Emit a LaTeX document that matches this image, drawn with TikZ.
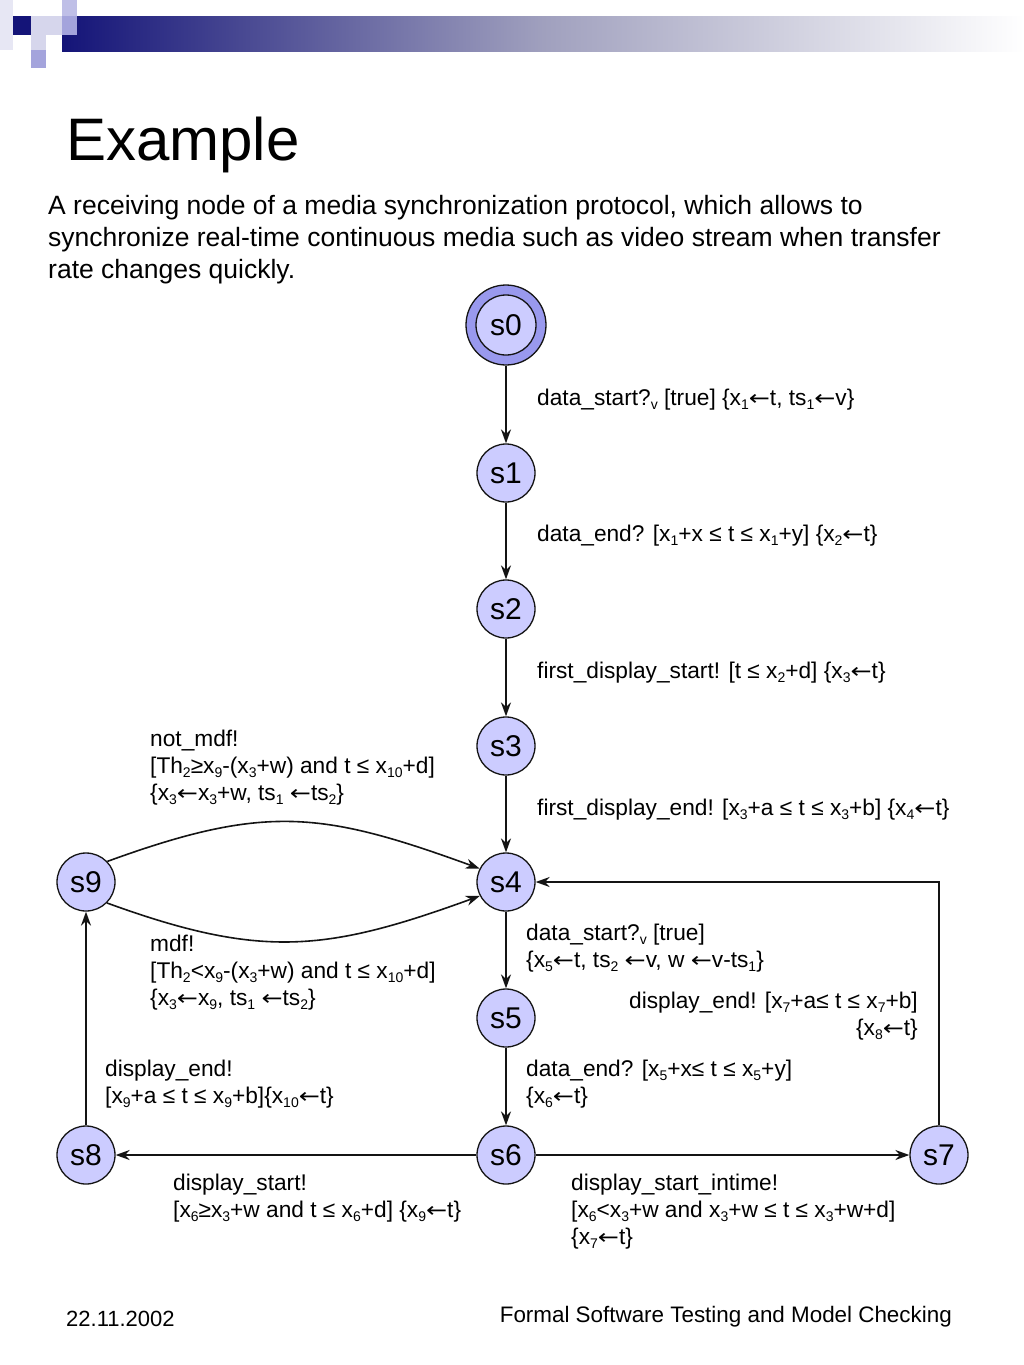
\documentclass[tikz,border=0pt]{standalone}
\usepackage{fontspec}
\usepackage{graphicx}
\setmainfont{Liberation Sans}
\newfontfamily\dvfont{DejaVu Sans}
\usetikzlibrary{arrows.meta}
\definecolor{navyc}{RGB}{20,20,120}
\definecolor{midc}{RGB}{160,160,190}
\definecolor{sqlight}{RGB}{214,214,236}
\definecolor{sqlav}{RGB}{164,164,220}
\definecolor{statec}{RGB}{204,204,255}
\definecolor{ringc}{RGB}{153,153,238}
\definecolor{linec}{RGB}{20,20,20}
\newcommand\sub[1]{\raisebox{-4pt}{\fontsize{14}{14}\selectfont #1}}
\newcommand\lstrut{\rule{0pt}{17pt}}
\newcommand\la{\scalebox{1.2}[1.0]{\dvfont\fontsize{21}{21}\selectfont ←}}
\begin{document}
\begin{tikzpicture}[x=1pt,y=1pt,
  state/.style={circle,draw=linec,line width=1.3pt,fill=statec,minimum size=58pt,inner sep=0pt,font=\fontsize{30}{30}\selectfont},
  arr/.style={-{Stealth[length=14pt,width=10pt]},line width=1.6pt,draw=linec},
  lab/.style={inner sep=0pt,font=\fontsize{22.7}{27}\selectfont,align=left,anchor=north west},
  labone/.style={inner sep=0pt,font=\fontsize{22.7}{27}\selectfont,anchor=base west}]
\useasboundingbox (0,0) rectangle (1024,-1365);
\fill[white] (0,0) rectangle (1024,-1365);
% decoration
\shade[left color=navyc,right color=white,middle color=midc] (62,-16) rectangle (1024,-51);
\fill[sqlight!60] (0,0) rectangle (13,-16);
\fill[sqlight!60] (0,-16) rectangle (13,-50);
\fill[sqlav!70] (62,0) rectangle (77,-16);
\fill[navyc] (13,-16) rectangle (31,-35);
\fill[sqlight] (31,-16) rectangle (62,-35);
\fill[sqlav] (62,-16) rectangle (77,-35);
\fill[sqlight] (31,-35) rectangle (46,-50);
\fill[sqlav] (31,-50) rectangle (46,-68);
% title and text
\node[inner sep=0pt,anchor=base west,font=\fontsize{60}{60}\selectfont] (title) at (66,-160) {Example};
\node[inner sep=0pt,anchor=north west,align=left,font=\fontsize{26.5}{32}\selectfont] (intro) at (48,-194.5)
  {\rule{0pt}{19.5pt}A receiving node of a media synchronization protocol, which allows to\\
   synchronize real-time continuous media such as video stream when transfer\\
   rate changes quickly.};
% states
\node[circle,draw=linec,line width=1.3pt,fill=ringc,minimum size=80pt,inner sep=0pt] (s0out) at (506,-325) {};
\node[state,minimum size=60pt] (s0) at (506,-325) {s0};
\node[state] (s1) at (506,-473) {s1};
\node[state] (s2) at (506,-609) {s2};
\node[state] (s3) at (506,-746) {s3};
\node[state] (s4) at (506,-882) {s4};
\node[state] (s5) at (506,-1018) {s5};
\node[state] (s6) at (506,-1155) {s6};
\node[state] (s7) at (939,-1155) {s7};
\node[state] (s8) at (86,-1155) {s8};
\node[state] (s9) at (86,-882) {s9};
% edges
\draw[arr] (s0out) -- (s1);
\draw[arr] (s1) -- (s2);
\draw[arr] (s2) -- (s3);
\draw[arr] (s3) -- (s4);
\draw[arr] (s4) -- (s5);
\draw[arr] (s5) -- (s6);
\draw[arr] (s6) -- (s8);
\draw[arr] (s6) -- (s7);
\draw[arr] (s8) -- (s9);
\draw[arr] (s7) |- (s4);
\draw[arr] (s9.44) .. controls +(20:168) and +(160:168) .. (s4.153);
\draw[arr] (s9.-45) .. controls +(-20:164) and +(200:164) .. (s4.208);
% labels
\node[labone] (l1) at (537,-405) {data\_start?\sub{v} [true] \{x\sub{1}\la t, ts\sub{1}\la v\}};
\node[labone] (l2) at (537,-541) {data\_end? [x\sub{1}+x ≤ t ≤ x\sub{1}+y] \{x\sub{2}\la t\}};
\node[labone] (l3) at (537,-678) {first\_display\_start! [t ≤ x\sub{2}+d] \{x\sub{3}\la t\}};
\node[labone] (l4) at (537,-815) {first\_display\_end! [x\sub{3}+a ≤ t ≤ x\sub{3}+b] \{x\sub{4}\la t\}};
\node[lab] (l5) at (150,-729) {\lstrut not\_mdf!\\{}[Th\sub{2}≥x\sub{9}-(x\sub{3}+w) and t ≤ x\sub{10}+d]\\\{x\sub{3}\la x\sub{3}+w, ts\sub{1} \la ts\sub{2}\}};
\node[lab] (l6) at (150,-934) {\lstrut mdf!\\{}[Th\sub{2}<x\sub{9}-(x\sub{3}+w) and t ≤ x\sub{10}+d]\\\{x\sub{3}\la x\sub{9}, ts\sub{1} \la ts\sub{2}\}};
\node[lab] (l7) at (526,-923) {\lstrut data\_start?\sub{v} [true]\\\{x\sub{5}\la t, ts\sub{2} \la v, w \la v-ts\sub{1}\}};
\node[lab,align=right,anchor=north east] (l8) at (918,-991) {\lstrut display\_end! [x\sub{7}+a≤ t ≤ x\sub{7}+b]\\\{x\sub{8}\la t\}};
\node[lab] (l9) at (526,-1059) {\lstrut data\_end? [x\sub{5}+x≤ t ≤ x\sub{5}+y]\\\{x\sub{6}\la t\}};
\node[lab] (l10) at (105,-1059) {\lstrut display\_end!\\{}[x\sub{9}+a ≤ t ≤ x\sub{9}+b]\{x\sub{10}\la t\}};
\node[lab] (l11) at (173,-1173) {\lstrut display\_start!\\{}[x\sub{6}≥x\sub{3}+w and t ≤ x\sub{6}+d] \{x\sub{9}\la t\}};
\node[lab] (l12) at (571,-1173) {\lstrut display\_start\_intime!\\{}[x\sub{6}<x\sub{3}+w and x\sub{3}+w ≤ t ≤ x\sub{3}+w+d]\\\{x\sub{7}\la t\}};
% footer
\node[inner sep=0pt,anchor=base west,font=\fontsize{22}{22}\selectfont] (date) at (66,-1326) {22.11.2002};
\node[inner sep=0pt,anchor=base east,font=\fontsize{22.4}{22.4}\selectfont] (foot) at (952,-1322) {Formal Software Testing and Model Checking};
\end{tikzpicture}
\end{document}
